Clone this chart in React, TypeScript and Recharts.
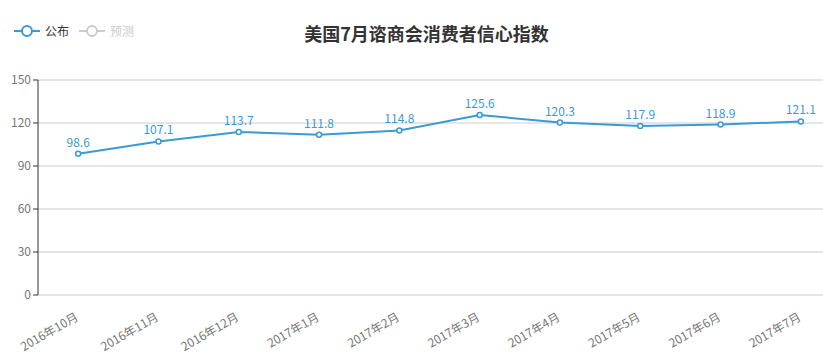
import React from "react";
import { LineChart, Line, XAxis, YAxis, CartesianGrid, LabelList } from "recharts";

const months = [
  "2016年10月", "2016年11月", "2016年12月", "2017年1月", "2017年2月",
  "2017年3月", "2017年4月", "2017年5月", "2017年6月", "2017年7月",
];
const published = [98.6, 107.1, 113.7, 111.8, 114.8, 125.6, 120.3, 117.9, 118.9, 121.1];
const yTicks = [0, 30, 60, 90, 120, 150];
const legendItems = [
  { name: "公布", color: "#3a99d9", text: "#333" },
  { name: "预测", color: "#ccc", text: "#ccc" },
];

const data = months.map((m, i) => ({ i, month: m, value: published[i] }));
const boundaryTicks = [...months.map((_, i) => i - 0.5), months.length - 0.5];
const centerTicks = months.map((_, i) => i);

const BLUE = "#3a99d9";
const FONT = "'Noto Sans CJK SC', 'Noto Sans', sans-serif";

function MonthTick({ x, y, payload }: any) {
  return (
    <g transform={`translate(${x},${y})`}>
      <text
        x={0}
        y={0}
        dy={4}
        transform="translate(-1,21) rotate(-30)"
        textAnchor="end"
        fontSize={12}
        fill="#777"
        fontFamily={FONT}
      >
        {months[payload.value]}
      </text>
    </g>
  );
}

function LegendIcon({ color }: { color: string }) {
  return (
    <svg width={26} height={14} style={{ verticalAlign: "middle" }}>
      <line x1={0} y1={7} x2={26} y2={7} stroke={color} strokeWidth={2} />
      <circle cx={13} cy={7} r={5} fill="#fff" stroke={color} strokeWidth={2} />
    </svg>
  );
}

export default function App() {
  return (
    <div style={{ position: "absolute", left: 0, top: 0, width: 823, height: 353, overflow: "hidden", background: "#fff", fontFamily: FONT }}>
      <div style={{ position: "absolute", left: 0, right: 0, top: 20, textAlign: "center", fontSize: 18, fontWeight: "bold", color: "#333", paddingLeft: 30 }}>
        美国7月谘商会消费者信心指数
      </div>
      <div style={{ position: "absolute", left: 14, top: 22, display: "flex", gap: 10, fontSize: 12 }}>
        {legendItems.map((it) => (
          <div key={it.name} style={{ display: "flex", alignItems: "center", gap: 5, color: it.text }}>
            <LegendIcon color={it.color} />
            <span>{it.name}</span>
          </div>
        ))}
      </div>
      <LineChart width={845} height={353} data={data} margin={{ top: 80, right: 4, left: 0, bottom: 0 }}>
        <CartesianGrid horizontal vertical={false} stroke="#ccc" />
        <XAxis
          xAxisId="b"
          dataKey="i"
          type="number"
          domain={[-0.5, months.length - 0.5]}
          ticks={boundaryTicks}
          tick={false}
          height={0}
          tickSize={5}
          stroke="#333"
          interval={0}
        />
        <XAxis
          xAxisId="c"
          dataKey="i"
          type="number"
          domain={[-0.5, months.length - 0.5]}
          ticks={centerTicks}
          tick={<MonthTick />}
          tickLine={false}
          axisLine={false}
          tickSize={0}
          tickMargin={0}
          height={58}
          interval={0}
        />
        <YAxis
          domain={[0, 150]}
          ticks={yTicks}
          width={38}
          stroke="#333"
          tickSize={5}
          tick={{ fill: "#777", fontSize: 12, fontFamily: FONT }}
          interval={0}
        />
        <Line
          xAxisId="b"
          dataKey="value"
          type="linear"
          stroke={BLUE}
          strokeWidth={2}
          dot={{ r: 2.5, fill: "#fff", stroke: BLUE, strokeWidth: 1.5 }}
          isAnimationActive={false}
        >
          <LabelList dataKey="value" position="top" offset={7} fill={BLUE} fontSize={12} fontFamily={FONT} />
        </Line>
      </LineChart>
    </div>
  );
}
